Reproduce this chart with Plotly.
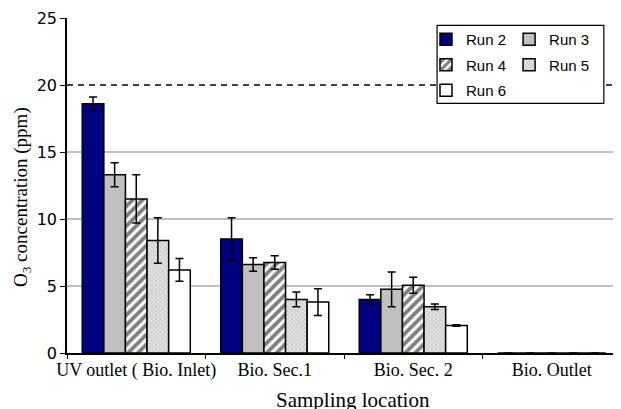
import plotly.graph_objects as go

categories = ["UV outlet ( Bio. Inlet)", "Bio. Sec.1", "Bio. Sec. 2", "Bio. Outlet"]
run_names = ["Run 2", "Run 3", "Run 4", "Run 5", "Run 6"]
run2 = [18.6, 8.5, 4.0, 0]
run3 = [13.3, 6.6, 4.75, 0]
run4 = [11.5, 6.75, 5.05, 0]
run5 = [8.4, 4.0, 3.45, 0]
run6 = [6.2, 3.8, 2.05, 0]
err2 = [0.5, 1.6, 0.35, 0]
err3 = [0.9, 0.5, 1.3, 0]
err4 = [1.8, 0.5, 0.6, 0]
err5 = [1.7, 0.55, 0.2, 0]
err6 = [0.85, 1.0, 0.05, 0]
grid_values = [5, 10, 15]
limit_value = 20
y_ticks = [0, 5, 10, 15, 20, 25]

values = [run2, run3, run4, run5, run6]
errors = [err2, err3, err4, err5, err6]
styles = [
    dict(color="#000080"),
    dict(color="#C0C0C0"),
    dict(color="white", pattern=dict(shape="/", fgcolor="black", bgcolor="white", size=7, solidity=0.55)),
    dict(color="#d0d0d0", pattern=dict(shape="x", fgcolor="#7a7a7a", bgcolor="#e4e4e4", size=3, solidity=0.3)),
    dict(color="white"),
]
legend_of = ["legend", "legend2", "legend", "legend2", "legend"]

fig = go.Figure()
for name, v, e, st, lg in zip(run_names, values, errors, styles, legend_of):
    marker = dict(line=dict(color="black", width=1.5))
    marker.update(st)
    fig.add_trace(go.Bar(
        x=categories, y=v, name=name, marker=marker,
        error_y=dict(type="data", array=e, visible=True, color="black", thickness=1.5, width=4),
        legend=lg, legendgroup=name,
    ))

shapes = []
for g in grid_values:
    shapes.append(dict(type="line", xref="paper", yref="y", x0=0, x1=1, y0=g, y1=g,
                       line=dict(color="#808080", width=1), layer="below"))
shapes.append(dict(type="line", xref="paper", yref="y", x0=0, x1=1, y0=limit_value, y1=limit_value,
                   line=dict(color="black", width=1.3, dash="6px,5px"), layer="below"))
# legend box
shapes.append(dict(type="rect", xref="paper", yref="paper", x0=0.668, x1=0.969, y0=0.745, y1=0.978,
                   line=dict(color="black", width=1.2), fillcolor="white", layer="above"))

legend_common = dict(bgcolor="rgba(0,0,0,0)", borderwidth=0, orientation="v",
                     font=dict(family="Liberation Sans, Arial", size=15, color="black"),
                     tracegroupgap=3, xanchor="left", yanchor="top")

serif = "Liberation Serif, Times New Roman"
fig.update_layout(
    width=621, height=409,
    margin=dict(l=59, r=8, t=10, b=64),
    paper_bgcolor="white", plot_bgcolor="white",
    barmode="group", bargap=0.22, bargroupgap=0,
    showlegend=True,
    legend=dict(x=0.648, y=0.985, **legend_common),
    legend2=dict(x=0.798, y=0.985, **legend_common),
    shapes=shapes,
    xaxis=dict(
        type="category", showline=True, linecolor="black", linewidth=1.5,
        ticks="outside", tickson="boundaries", ticklen=4, tickcolor="black",
        showgrid=False, tickangle=0, automargin=False,
        tickfont=dict(family=serif, size=18, color="black"),
    ),
    yaxis=dict(
        range=[0, 25], tickvals=y_ticks, showline=True, linecolor="black", linewidth=1.5,
        ticks="outside", ticklen=5, tickcolor="black", showgrid=False, zeroline=False,
        automargin=False,
        tickfont=dict(family="DejaVu Sans", size=16, color="black"),
    ),
    annotations=[
        dict(text="Sampling location", xref="paper", yref="paper", x=0.516, y=-0.14,
             xanchor="center", yanchor="middle", showarrow=False,
             font=dict(family=serif, size=21, color="black")),
        dict(text="O<sub>3</sub> concentration (ppm)", xref="paper", yref="paper", x=-0.081, y=0.466,
             xanchor="center", yanchor="middle", showarrow=False, textangle=-90,
             font=dict(family=serif, size=19, color="black")),
    ],
)

fig.write_html("out.html")
